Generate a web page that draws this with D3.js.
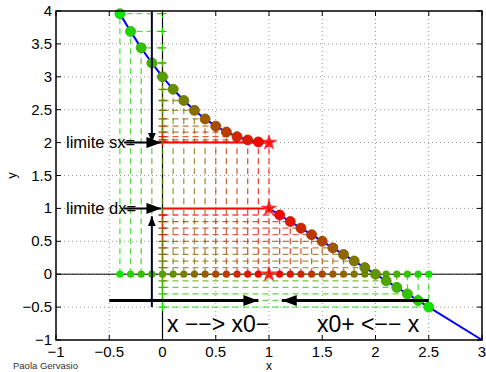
<!DOCTYPE html>
<html>
<head>
<meta charset="utf-8">
<script src="https://cdn.jsdelivr.net/npm/d3@7"></script>
<style>
  body { margin: 0; background: #fff; }
  text { font-family: "Liberation Sans", Arial, sans-serif; }
</style>
</head>
<body>
<div id="chart"></div>
<script>
// sequence approaching x0 = 1 from the left
const leftX = [-0.4, -0.3, -0.2, -0.1, 0, 0.1, 0.2, 0.3, 0.4, 0.5, 0.6, 0.7, 0.8, 0.9];
const leftY = [3.96, 3.69, 3.44, 3.21, 3.0, 2.81, 2.64, 2.49, 2.36, 2.25, 2.16, 2.09, 2.04, 2.01];
// sequence approaching x0 = 1 from the right
const rightX = [1.1, 1.2, 1.3, 1.4, 1.5, 1.6, 1.7, 1.8, 1.9, 2.0, 2.1, 2.2, 2.3, 2.4, 2.5];
const rightY = [0.9, 0.8, 0.7, 0.6, 0.5, 0.4, 0.3, 0.2, 0.1, 0, -0.1, -0.2, -0.3, -0.4, -0.5];
// end of the right branch of the function
const tailX = [3];
const tailY = [-1];
const x0 = 1;
const limitSx = 2;
const limitDx = 1;
const xTicks = [-1, -0.5, 0, 0.5, 1, 1.5, 2, 2.5, 3];
const yTicks = [-1, -0.5, 0, 0.5, 1, 1.5, 2, 2.5, 3, 3.5, 4];

const width = 486, height = 372;
const x = d3.scaleLinear().domain([-1, 3]).range([56, 482]);
const y = d3.scaleLinear().domain([-1, 4]).range([340, 11]);

const svg = d3.select("#chart").append("svg")
  .attr("width", width).attr("height", height);

const defs = svg.append("defs");
function arrowMarker(id, len, w) {
  defs.append("marker")
    .attr("id", id)
    .attr("markerUnits", "userSpaceOnUse")
    .attr("viewBox", `0 0 ${len} ${w}`)
    .attr("refX", len).attr("refY", w / 2)
    .attr("markerWidth", len).attr("markerHeight", w)
    .attr("orient", "auto")
    .append("path")
    .attr("d", `M0,0L${len},${w / 2}L0,${w}Z`)
    .attr("fill", "#000");
}
arrowMarker("headBig", 15, 11);
arrowMarker("headSmall", 10, 8);

svg.append("rect")
  .attr("x", x(-1)).attr("y", y(4))
  .attr("width", x(3) - x(-1)).attr("height", y(-1) - y(4))
  .attr("fill", "#fff");

// dotted grid
const grid = svg.append("g").attr("stroke", "#999").attr("stroke-dasharray", "1,3").attr("stroke-width", 1);
xTicks.slice(1, -1).forEach(t => {
  grid.append("line").attr("x1", x(t)).attr("x2", x(t)).attr("y1", y(-1)).attr("y2", y(4));
});
yTicks.slice(1, -1).forEach(t => {
  grid.append("line").attr("x1", x(-1)).attr("x2", x(3)).attr("y1", y(t)).attr("y2", y(t));
});

// colours: green far away, red close to x0
const leftColor = d3.scaleLinear().domain([0, leftX.length - 1]).range(["#11e400", "#ee0800"]);
const rightColor = d3.scaleLinear().domain([0, rightX.length - 1]).range(["#ee0800", "#11e400"]);

const left = leftX.map((v, i) => ({ x: v, y: leftY[i], c: leftColor(i) }));
const right = rightX.map((v, i) => ({ x: v, y: rightY[i], c: rightColor(i) }));
const all = left.concat(right);

// dashed projections
const dash = svg.append("g").attr("stroke-dasharray", "6,4").attr("stroke-width", 1.3).attr("stroke-opacity", 0.75);
all.forEach(d => {
  dash.append("line")
    .attr("x1", x(d.x)).attr("x2", x(d.x)).attr("y1", y(0)).attr("y2", y(d.y))
    .attr("stroke", d.c);
  dash.append("line")
    .attr("x1", x(0)).attr("x2", x(d.x)).attr("y1", y(d.y)).attr("y2", y(d.y))
    .attr("stroke", d.c);
});
dash.append("line")
  .attr("x1", x(x0)).attr("x2", x(x0)).attr("y1", y(0)).attr("y2", y(limitSx))
  .attr("stroke", "#ff0000");

// axes lines through the origin
svg.append("line").attr("x1", x(-1)).attr("x2", x(3)).attr("y1", y(0)).attr("y2", y(0))
  .attr("stroke", "#000").attr("stroke-width", 1);
svg.append("line").attr("x1", x(0)).attr("x2", x(0)).attr("y1", y(4)).attr("y2", y(-1))
  .attr("stroke", "#000").attr("stroke-width", 1.2);

// function branches
const line = d3.line().x(d => x(d.x)).y(d => y(d.y));
svg.append("path")
  .datum(left.concat([{ x: x0, y: limitSx }]))
  .attr("d", line).attr("fill", "none").attr("stroke", "#0000ff").attr("stroke-width", 2);
svg.append("path")
  .datum([{ x: x0, y: limitDx }].concat(right, tailX.map((v, i) => ({ x: v, y: tailY[i] }))))
  .attr("d", line).attr("fill", "none").attr("stroke", "#0000ff").attr("stroke-width", 2);

// limit lines
[limitSx, limitDx].forEach(l => {
  svg.append("line")
    .attr("x1", x(0)).attr("x2", x(x0)).attr("y1", y(l)).attr("y2", y(l))
    .attr("stroke", "#ff0000").attr("stroke-width", 2);
});

// plus markers on the y axis
all.forEach(d => {
  svg.append("path")
    .attr("d", `M${x(0) - 4},${y(d.y)}h8M${x(0)},${y(d.y) - 4}v8`)
    .attr("stroke", d.c).attr("stroke-width", 1.3);
});

// points on the x axis
svg.selectAll(".xdot").data(all).enter().append("circle")
  .attr("cx", d => x(d.x)).attr("cy", y(0)).attr("r", 3.6)
  .attr("fill", d => d.c);

// points on the curve
svg.selectAll(".fdot").data(all).enter().append("circle")
  .attr("cx", d => x(d.x)).attr("cy", d => y(d.y)).attr("r", 5)
  .attr("fill", d => d.c)
  .attr("stroke", d => d3.color(d.c).darker(0.4)).attr("stroke-width", 0.8);

// stars at x0
const star = d3.symbol().type(d3.symbolStar).size(55);
[limitSx, limitDx, 0].forEach(l => {
  svg.append("path").attr("d", star)
    .attr("transform", `translate(${x(x0)},${y(l)})`)
    .attr("fill", "#ff1010").attr("stroke", "#ff3030").attr("stroke-width", 1.2);
});

// arrows
const arrows = svg.append("g").attr("stroke", "#000");
arrows.append("line")
  .attr("x1", x(-0.5)).attr("x2", x(0.9)).attr("y1", y(-0.4)).attr("y2", y(-0.4))
  .attr("stroke-width", 3).attr("marker-end", "url(#headBig)");
arrows.append("line")
  .attr("x1", x(2.5)).attr("x2", x(1.12)).attr("y1", y(-0.4)).attr("y2", y(-0.4))
  .attr("stroke-width", 3).attr("marker-end", "url(#headBig)");
// redraw the dashed projection over the right arrow
dash.raise();
svg.selectAll("circle").raise();
arrows.append("line")
  .attr("x1", x(-0.1)).attr("x2", x(-0.1)).attr("y1", y(4)).attr("y2", y(limitSx))
  .attr("stroke", "#000033").attr("stroke-width", 2).attr("marker-end", "url(#headSmall)");
arrows.append("line")
  .attr("x1", x(-0.1)).attr("x2", x(-0.1)).attr("y1", y(-0.5)).attr("y2", y(0.88))
  .attr("stroke", "#000033").attr("stroke-width", 2).attr("marker-end", "url(#headSmall)");
[limitSx, limitDx].forEach(l => {
  arrows.append("line")
    .attr("x1", x(-0.36)).attr("x2", x(-0.01)).attr("y1", y(l)).attr("y2", y(l))
    .attr("stroke-width", 2).attr("marker-end", "url(#headBig)");
});
arrows.raise();

// frame and ticks
svg.append("rect")
  .attr("x", x(-1)).attr("y", y(4))
  .attr("width", x(3) - x(-1)).attr("height", y(-1) - y(4))
  .attr("fill", "none").attr("stroke", "#000").attr("stroke-width", 1.5);
const ticks = svg.append("g").attr("stroke", "#000").attr("stroke-width", 1);
xTicks.forEach(t => {
  ticks.append("line").attr("x1", x(t)).attr("x2", x(t)).attr("y1", y(-1)).attr("y2", y(-1) - 5);
  ticks.append("line").attr("x1", x(t)).attr("x2", x(t)).attr("y1", y(4)).attr("y2", y(4) + 5);
});
yTicks.forEach(t => {
  ticks.append("line").attr("x1", x(-1)).attr("x2", x(-1) + 5).attr("y1", y(t)).attr("y2", y(t));
  ticks.append("line").attr("x1", x(3)).attr("x2", x(3) - 5).attr("y1", y(t)).attr("y2", y(t));
});

const fmt = v => (v < 0 ? "\u2212" : "") + Math.abs(v);
svg.selectAll(".xt").data(xTicks).enter().append("text")
  .attr("x", d => x(d)).attr("y", 357)
  .attr("text-anchor", "middle").attr("font-size", 15)
  .text(fmt);
svg.selectAll(".yt").data(yTicks).enter().append("text")
  .attr("x", 52).attr("y", d => y(d) + 5)
  .attr("text-anchor", "end").attr("font-size", 15)
  .text(fmt);

svg.append("text").attr("x", x(1)).attr("y", 370)
  .attr("text-anchor", "middle").attr("font-size", 12).text("x");
svg.append("text").attr("transform", `translate(16,${y(1.5)}) rotate(-90)`)
  .attr("text-anchor", "middle").attr("font-size", 13).text("y");
svg.append("text").attr("x", 13).attr("y", 369)
  .attr("font-size", 9.5).attr("fill", "#333").text("Paola Gervasio");

svg.append("text").attr("x", 66).attr("y", y(limitSx) + 5.5)
  .attr("font-size", 16.5).text("limite sx=");
svg.append("text").attr("x", 66).attr("y", y(limitDx) + 5.5)
  .attr("font-size", 16.5).text("limite dx=");
svg.append("text").attr("x", 167).attr("y", 332)
  .attr("font-size", 23).text("x \u2212\u2212> x0\u2212");
svg.append("text").attr("x", 317).attr("y", 332)
  .attr("font-size", 23).text("x0+ <\u2212\u2212 x");
</script>
</body>
</html>
